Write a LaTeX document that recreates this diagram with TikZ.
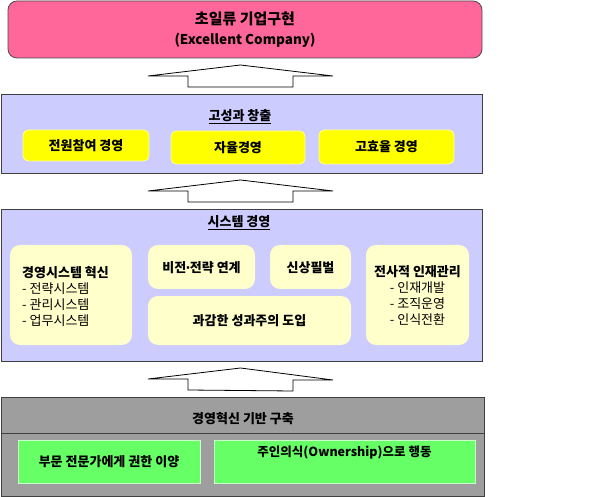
\documentclass[tikz,border=0pt]{standalone}
\usepackage{fontspec}
\setmainfont{Noto Sans CJK KR}
\newfontfamily\dotfont{DejaVu Sans}
\usetikzlibrary{calc}
\definecolor{goalpink}{HTML}{FF6699}
\definecolor{lavender}{HTML}{CCCCFF}
\definecolor{hiyellow}{HTML}{FFFF00}
\definecolor{paleyellow}{HTML}{FFFFCC}
\definecolor{ltgreen}{HTML}{66FF66}
\tikzset{>=latex}
\tikzset{
  layer/.style={draw=black!75,line width=0.8pt,inner sep=0pt,outer sep=0pt},
  goalbox/.style={layer,fill=goalpink,draw=black!70,rounded corners=9pt},
  tierbox/.style={layer,fill=lavender},
  basebox/.style={layer,top color=black!38,middle color=black!14,bottom color=black!38},
  keybox/.style={draw=hiyellow!40,line width=0.8pt,fill=hiyellow,rounded corners=5pt,inner sep=0pt},
  softbox/.style={fill=paleyellow,rounded corners=10pt,inner sep=0pt},
  greenbox/.style={draw=ltgreen!35,line width=0.8pt,fill=ltgreen,inner sep=0pt},
  blockarrow/.style={draw=black,line width=0.8pt,fill=white},
  lbl/.style={font=\bfseries\fontsize{13}{15}\selectfont,inner sep=0pt},
}

\begin{document}
\begin{tikzpicture}[x=1pt,y=-1pt]
  % Frame
  \fill[white] (0,0) rectangle (600,497);
  \useasboundingbox (0,0) rectangle (600,497);

  % Boxes
  \node[goalbox,minimum width=474pt,minimum height=57pt] (goal) at (245,29.5) {};
  \node[tierbox,minimum width=481pt,minimum height=79pt] (perf) at (241.5,133.5) {};
  \node[keybox,minimum width=126pt,minimum height=31pt] (allin) at (86,145.5) {};
  \node[keybox,minimum width=134pt,minimum height=33pt] (self) at (238,147.5) {};
  \node[keybox,minimum width=135pt,minimum height=34pt] (effic) at (386.5,147) {};
  \node[tierbox,minimum width=481pt,minimum height=152pt] (sys) at (241.5,285) {};
  \node[softbox,minimum width=122pt,minimum height=100pt] (inno) at (71,295) {};
  \node[softbox,minimum width=107pt,minimum height=44pt] (vision) at (201.5,267) {};
  \node[softbox,minimum width=81pt,minimum height=44pt] (reward) at (310.5,267) {};
  \node[softbox,minimum width=203pt,minimum height=49pt] (merit) at (249.5,320.5) {};
  \node[softbox,minimum width=103pt,minimum height=100pt] (talent) at (417.5,295) {};
  \node[basebox,minimum width=483pt,minimum height=36pt] (basehead) at (242.5,415) {};
  \node[basebox,minimum width=483pt,minimum height=63.5pt] (basebody) at (242.5,464.75) {};
  \node[greenbox,minimum width=182pt,minimum height=43pt] (deleg) at (109,461.5) {};
  \node[greenbox,minimum width=261pt,minimum height=43pt] (owner) at (344.5,461.5) {};

  % Arrows
  \coordinate (a1) at (240.5,87);
  \coordinate (a2) at (240.5,202);
  \coordinate (a3) at (240.5,390);
  \draw[blockarrow] (a1) ++(-52.5,0) -- ++(0,-11) -- ++(-40,0) -- ++(92.5,-11) -- ++(92.5,11) -- ++(-40,0) -- ++(0,11) -- cycle;
  \draw[blockarrow] (a2) ++(-52.5,0) -- ++(0,-11) -- ++(-40,0) -- ++(92.5,-11) -- ++(92.5,11) -- ++(-40,0) -- ++(0,11) -- cycle;
  \draw[blockarrow] (a3) ++(-52.5,0) -- ++(0,-11) -- ++(-40,0) -- ++(92.5,-11) -- ++(92.5,12) -- ++(-40,0) -- ++(0,11) -- cycle;

  % Labels
  \node[lbl,align=center,font=\bfseries\fontsize{13.5}{20}\selectfont] (goalt) at (goal)
    {{\fontsize{15}{20}\selectfont 초일류 기업구현}\\(Excellent Company)};
  \node[lbl] (perft) at (240,117) {\underline{고성과 창출}};
  \node[lbl] (allint) at (allin) {전원참여 경영};
  \node[lbl] (selft) at (self) {자율경영};
  \node[lbl] (effict) at (effic) {고효율 경영};
  \node[lbl] (syst) at (239,223) {\underline{시스템 경영}};
  \node[lbl,anchor=west,align=left,font=\fontsize{13}{16}\selectfont] (innot) at (22,296)
    {\textbf{경영시스템 혁신}\\- 전략시스템\\- 관리시스템\\- 업무시스템};
  \node[lbl] (visiont) at ($(vision)+(0,1)$) {비전{\dotfont\kern-0.05em·\kern-0.05em}전략 연계};
  \node[lbl] (rewardt) at ($(reward)+(0,1)$) {신상필벌};
  \node[lbl] (meritt) at (merit) {과감한 성과주의 도입};
  \node[lbl,align=center,font=\fontsize{13}{16}\selectfont] (talentt) at ($(talent)+(0,1)$)
    {\textbf{전사적 인재관리}\\- 인재개발\\- 조직운영\\- 인식전환};
  \node[lbl] (baset) at (243,419) {경영혁신 기반 구축};
  \node[lbl] (delegt) at (deleg) {부문 전문가에게 권한 이양};
  \node[lbl,font=\bfseries\fontsize{12.5}{15}\selectfont] (ownert) at ($(owner)+(0,-9)$) {주인의식(Ownership)으로 행동};
\end{tikzpicture}
\end{document}
